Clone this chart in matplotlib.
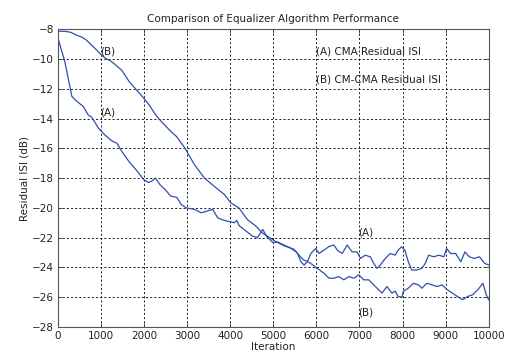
import numpy as np
import matplotlib
matplotlib.use('Agg')
import matplotlib.pyplot as plt

# ─── DATA ────────────────────────────────────────────────────────────────────
iter_a = [0, 160, 320, 400, 550, 590, 700, 780, 940, 1090, 1250, 1365, 1480, 1650,
          1830, 1990, 2100, 2180, 2260, 2370, 2500, 2610, 2760, 2862, 2977, 3169,
          3323, 3477, 3592, 3708, 3820, 3938, 4092, 4150, 4208, 4362, 4515, 4631,
          4700, 4754, 4838, 4985, 5100, 5250, 5400, 5550, 5638, 5715, 5792, 5870,
          5985, 6062, 6177, 6292, 6408, 6485, 6600, 6715, 6830, 6946, 7023, 7138,
          7254, 7331, 7408, 7485, 7600, 7715, 7831, 7898, 7976, 8055, 8134, 8213,
          8331, 8449, 8528, 8606, 8724, 8843, 8961, 9024, 9118, 9236, 9354, 9449,
          9551, 9669, 9787, 9906, 10000]
isi_a = [-8.6, -10.2, -12.5, -12.75, -13.1, -13.2, -13.75, -13.9, -14.65, -15.1,
         -15.5, -15.65, -16.2, -16.9, -17.5, -18.1, -18.3, -18.2, -18.0, -18.45,
         -18.8, -19.2, -19.3, -19.78, -20.0, -20.1, -20.33, -20.2, -20.1, -20.67,
         -20.8, -20.9, -21.0, -20.85, -21.2, -21.55, -21.9, -22.0, -21.7, -21.45,
         -21.9, -22.33, -22.3, -22.5, -22.7, -23.0, -23.6, -23.85, -23.6, -23.07,
         -22.73, -23.07, -22.84, -22.6, -22.5, -22.84, -23.07, -22.5, -22.96,
         -22.96, -23.4, -23.18, -23.3, -23.73, -24.07, -23.84, -23.4, -23.07,
         -23.18, -22.84, -22.62, -22.84, -23.62, -24.18, -24.18, -24.07, -23.73,
         -23.18, -23.29, -23.18, -23.29, -22.73, -23.07, -23.07, -23.62, -22.96,
         -23.29, -23.4, -23.29, -23.73, -23.84]

iter_b = [0, 160, 300, 395, 550, 650, 744, 900, 1016, 1130, 1210, 1300, 1480, 1650,
          1800, 1984, 2120, 2256, 2400, 2566, 2650, 2750, 2915, 3015, 3169, 3400,
          3631, 3862, 4015, 4200, 4400, 4585, 4738, 4862, 5015, 5246, 5477, 5600,
          5700, 5792, 5900, 6023, 6177, 6292, 6408, 6523, 6638, 6754, 6869, 6985,
          7100, 7215, 7331, 7446, 7523, 7638, 7754, 7831, 7898, 7990, 8016, 8134,
          8252, 8370, 8449, 8567, 8685, 8803, 8921, 9039, 9157, 9276, 9394, 9512,
          9630, 9748, 9866, 9945, 10000]
isi_b = [-8.13, -8.13, -8.2, -8.35, -8.52, -8.7, -8.96, -9.4, -9.75, -10.0, -10.1,
         -10.3, -10.75, -11.5, -12.0, -12.6, -13.1, -13.7, -14.2, -14.7, -14.95,
         -15.2, -15.85, -16.33, -17.1, -18.0, -18.56, -19.1, -19.67, -20.0, -20.8,
         -21.2, -21.67, -21.9, -22.2, -22.55, -22.78, -23.2, -23.5, -23.6, -23.8,
         -24.07, -24.4, -24.73, -24.73, -24.62, -24.84, -24.62, -24.73, -24.5,
         -24.84, -24.84, -25.18, -25.51, -25.73, -25.29, -25.73, -25.6, -25.96,
         -26.0, -25.62, -25.4, -25.07, -25.18, -25.4, -25.07, -25.18, -25.29,
         -25.18, -25.51, -25.73, -25.96, -26.18, -25.96, -25.84, -25.51, -25.07,
         -25.84, -26.18]

x_ticks = list(range(0, 10001, 1000))
y_ticks = list(range(-28, -7, 2))

# ─── PLOT ────────────────────────────────────────────────────────────────────
plt.rcParams['font.family'] = 'DejaVu Sans'
plt.rcParams['font.size'] = 7.5

fig = plt.figure(figsize=(5.09, 3.58), dpi=100)
ax = fig.add_axes([0.114, 0.087, 0.846, 0.831])

blue = '#2f4fae'
ax.plot(iter_a, isi_a, color=blue, linewidth=0.9)
ax.plot(iter_b, isi_b, color=blue, linewidth=0.9)

ax.set_xlim(0, 10000)
ax.set_ylim(-28, -8)
ax.set_xticks(x_ticks)
ax.set_yticks(y_ticks)
ax.grid(True, color='black', linestyle=(0, (2.5, 2.5)), linewidth=0.6)
ax.tick_params(direction='in', length=3, width=0.6, top=True, right=True,
               colors='#333333', labelcolor='#222222', pad=3)
for s in ax.spines.values():
    s.set_color('#555555')
    s.set_linewidth(0.8)

ax.set_title('Comparison of Equalizer Algorithm Performance', fontsize=7.5,
             pad=5, color='#222222')
ax.set_xlabel('Iteration', labelpad=1, color='#222222')
ax.set_ylabel('Residual ISI (dB)', labelpad=2, color='#222222')

ax.text(980, -9.5, '(B)', va='center', ha='left', color='#222222')
ax.text(980, -13.6, '(A)', va='center', ha='left', color='#222222')
ax.text(6980, -21.65, '(A)', va='center', ha='left', color='#222222')
ax.text(6980, -27.06, '(B)', va='center', ha='left', color='#222222')
ax.text(5980, -9.5, '(A) CMA Residual ISI', va='center', ha='left', color='#222222')
ax.text(5980, -11.35, '(B) CM-CMA Residual ISI', va='center', ha='left',
        color='#222222')

plt.savefig('out.png', dpi=100)
plt.close()
